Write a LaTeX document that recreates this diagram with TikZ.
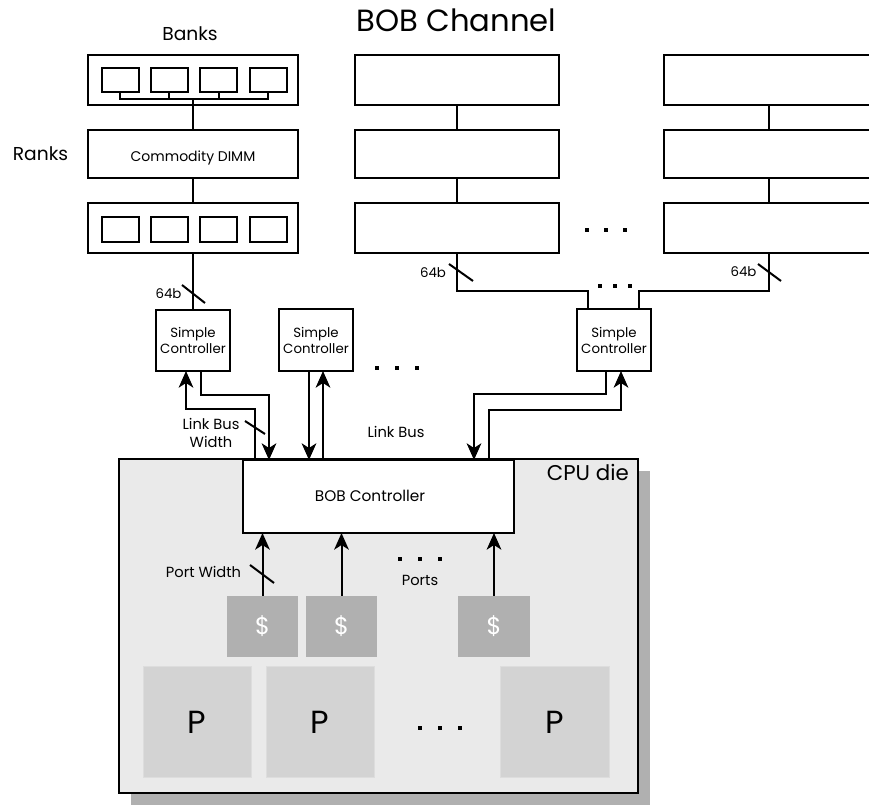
\documentclass[tikz,border=0pt]{standalone}
\usepackage{fontspec}
\setmainfont{Poppins}
\usetikzlibrary{arrows.meta,calc}
\definecolor{diefill}{HTML}{EAEAEA}
\definecolor{shadowc}{HTML}{B0B0B0}
\definecolor{cachec}{HTML}{B0B0B0}
\definecolor{pfill}{HTML}{D3D3D3}
\definecolor{pedge}{HTML}{DDDDDD}
\tikzset{
  box/.style={draw, line width=1.5pt, fill=white, inner sep=0pt, outer sep=0pt},
  sz/.style 2 args={minimum width=#1*0.75pt, minimum height=#2*0.75pt},
  wire/.style={line width=1.5pt},
  arr/.style={line width=1.5pt, -{Stealth[length=12.5pt,width=11pt,inset=3.5pt]}},
  slashmark/.style={line width=1.5pt},
  dotmark/.style={fill=black, inner sep=0pt, outer sep=0pt, minimum size=3.4pt},
  smalltext/.style={font=\fontsize{10}{12}\selectfont, align=center, inner sep=0pt},
  midtext/.style={font=\fontsize{11}{14}\selectfont, align=center, inner sep=0pt},
  labtext/.style={font=\fontsize{14}{17}\selectfont, inner sep=0pt},
  cachebox/.style={fill=cachec, inner sep=0pt, text=white, font=\fontsize{18}{20}\selectfont},
  pbox/.style={fill=pfill, draw=pedge, line width=0.75pt, inner sep=0pt, font=\fontsize{24}{26}\selectfont},
}
\begin{document}
\begin{tikzpicture}[x=0.75pt,y=-0.75pt]
\useasboundingbox (0,0) rectangle (869,805);
\clip (0,0) rectangle (869,805);

% ---------- CPU die ----------
\node[fill=shadowc, inner sep=0pt, sz={519}{334}] (shadow) at (390.5,638) {};
\node[draw, line width=1.5pt, fill=diefill, inner sep=0pt, sz={519}{334}] (die) at (378.5,626) {};
\node[font=\fontsize{16}{19}\selectfont, inner sep=0pt, anchor=base east] (dielab) at (629,481) {CPU die};
\node[box, sz={271}{73}] (bob) at (378.5,496.5) {};
\node[font=\fontsize{11.5}{14}\selectfont, inner sep=0pt, anchor=base] (boblab) at (370,502) {BOB Controller};

% caches and processors
\node[cachebox, sz={71}{61}] (c1) at (262.5,626.5) {\$};
\node[cachebox, sz={71}{61}] (c2) at (341.5,626.5) {\$};
\node[cachebox, sz={72}{61}] (c3) at (494,626.5) {\$};
\node[pbox, sz={108}{111}] (p1) at (197,722.5) {P};
\node[pbox, sz={108}{111}] (p2) at (320,722.5) {P};
\node[pbox, sz={109}{111}] (p3) at (554.5,722.5) {P};

\draw[arr] (c1.north) -- (c1.north |- bob.south);
\draw[arr] (c2.north) -- (c2.north |- bob.south);
\draw[arr] (c3.north) -- (c3.north |- bob.south);
\draw[slashmark] (250,565) -- (274,583);
\node[midtext, anchor=base] (portw) at (203.5,578) {Port Width};
\node[midtext, anchor=base] (ports) at (420,586) {Ports};
\node[dotmark] (pd1) at (400,559) {};
\node[dotmark] (pd2) at (420,559) {};
\node[dotmark] (pd3) at (440,559) {};
\node[dotmark] (qd1) at (420,728) {};
\node[dotmark] (qd2) at (440,728) {};
\node[dotmark] (qd3) at (460,728) {};

% ---------- titles ----------
\node[font=\fontsize{23}{27}\selectfont, inner sep=0pt, anchor=base] (title) at (456.5,32) {BOB Channel};
\node[labtext, anchor=base] (banks) at (190,41) {Banks};
\node[labtext, anchor=base] (ranks) at (40.5,161) {Ranks};

% ---------- left channel ----------
\node[box, sz={210}{50}] (b1) at (193,80) {};
\foreach \i/\x in {1/120,2/169,3/218.5,4/268}{
  \node[box, sz={37}{24}] (b1\i) at (\x,80) {};
}
\coordinate (busL) at (120,99);
\coordinate (busC) at (193,99);
\draw[wire] (b11.south) -- (b11.south |- busL) -- (b14.south |- busL) -- (b14.south);
\draw[wire] (b12.south) -- (b12.south |- busL);
\draw[wire] (b13.south) -- (b13.south |- busL);
\node[box, sz={210}{48}] (dimm) at (193,154) {};
\node[font=\fontsize{10.5}{12}\selectfont, inner sep=0pt, anchor=base] (dimmlab) at (193,162) {Commodity DIMM};
\draw[wire] (busC) -- (dimm.north);
\node[box, sz={210}{50}] (b3) at (193,228) {};
\foreach \i/\x in {1/120,2/169,3/218.5,4/268}{
  \node[box, sz={37}{25}] (b3\i) at (\x,229.5) {};
}
\draw[wire] (dimm) -- (b3);

% ---------- middle & right channels ----------
\node[box, sz={204}{50}] (m1) at (457,80) {};
\node[box, sz={204}{48}] (m2) at (457,154) {};
\node[box, sz={204}{50}] (m3) at (457,228) {};
\draw[wire] (m1) -- (m2);
\draw[wire] (m2) -- (m3);
\node[box, sz={210}{50}] (r1) at (769,80) {};
\node[box, sz={210}{48}] (r2) at (769,154) {};
\node[box, sz={210}{50}] (r3) at (769,228) {};
\draw[wire] (r1) -- (r2);
\draw[wire] (r2) -- (r3);
\node[dotmark] (cd1) at (587,230) {};
\node[dotmark] (cd2) at (606,230) {};
\node[dotmark] (cd3) at (625,230) {};

% ---------- simple controllers ----------
\node[box, sz={74}{61}] (sc1) at (193,340.5) {};
\node[smalltext] (sc1lab) at (193,340.5) {Simple\\Controller};
\node[box, sz={74}{62}] (sc2) at (316,340) {};
\node[smalltext] (sc2lab) at (316,340) {Simple\\Controller};
\node[box, sz={74}{62}] (sc3) at (614,340) {};
\node[smalltext] (sc3lab) at (614,340) {Simple\\Controller};

\draw[wire] (b3) -- (sc1);
\draw[slashmark] (182,285) -- (205,303);
\node[smalltext, anchor=base] (w64a) at (168.5,299) {64b};

\draw[wire] (m3.south) |- ($(sc3.north)+(-26,-18)$) -- ($(sc3.north)+(-26,0)$);
\draw[wire] (r3.south) |- ($(sc3.north)+(25,-18)$) -- ($(sc3.north)+(25,0)$);
\draw[slashmark] (449,264) -- (473,281);
\node[smalltext, anchor=base] (w64b) at (433,278) {64b};
\draw[slashmark] (758,264) -- (781,281);
\node[smalltext, anchor=base] (w64c) at (743.5,277) {64b};
\node[dotmark] (sd1) at (600,286) {};
\node[dotmark] (sd2) at (615,286) {};
\node[dotmark] (sd3) at (630,286) {};

% ---------- link buses ----------
\draw[arr] ($(bob.north west)+(12,0)$) |- ($(sc1.south)+(-7,38)$) -- ($(sc1.south)+(-7,0)$);
\draw[arr] ($(sc1.south)+(8,0)$) |- ($(bob.north west)+(26,-65)$) -- ($(bob.north west)+(26,0)$);
\draw[slashmark] (245,421) -- (265,434);
\node[midtext] (lbw) at (211,433) {Link Bus\\Width};

\coordinate (s2a) at ($(sc2.south)+(-7,0)$);
\coordinate (s2b) at ($(sc2.south)+(7,0)$);
\draw[arr] (s2a) -- (s2a |- bob.north);
\draw[arr] (s2b |- bob.north) -- (s2b);
\node[midtext, anchor=base] (lb) at (396,438) {Link Bus};
\node[dotmark] (md1) at (377,368) {};
\node[dotmark] (md2) at (397,368) {};
\node[dotmark] (md3) at (417,368) {};

\draw[arr] ($(sc3.south)+(-8,0)$) |- ($(bob.north west)+(231,-66)$) -- ($(bob.north west)+(231,0)$);
\draw[arr] ($(bob.north west)+(246,0)$) |- ($(sc3.south)+(7,39)$) -- ($(sc3.south)+(7,0)$);
\end{tikzpicture}
\end{document}
